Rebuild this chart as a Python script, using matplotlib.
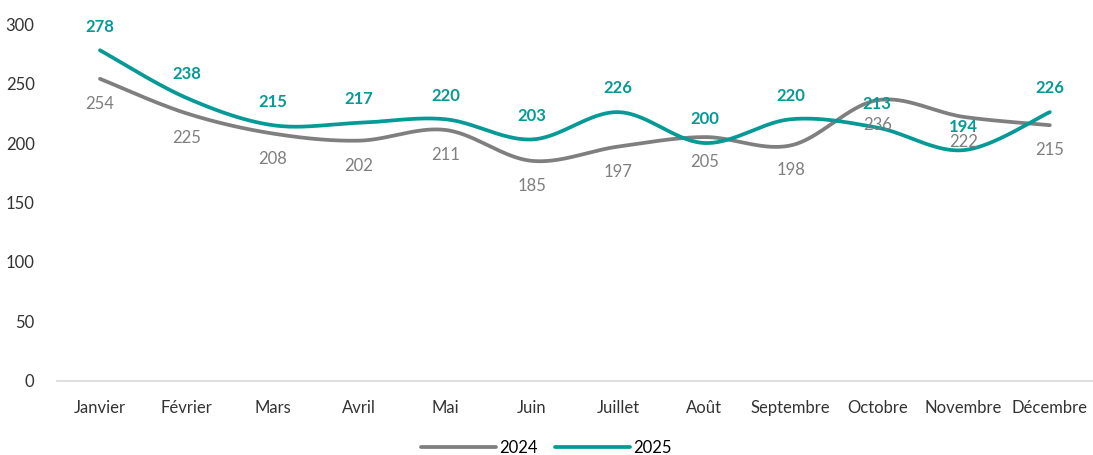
import numpy as np
import matplotlib
matplotlib.use('Agg')
import matplotlib.pyplot as plt

plt.rcParams['font.family'] = ['Lato', 'DejaVu Sans']

mois = ['Janvier', 'Février', 'Mars', 'Avril', 'Mai', 'Juin', 'Juillet',
        'Août', 'Septembre', 'Octobre', 'Novembre', 'Décembre']
v2024 = [254, 225, 208, 202, 211, 185, 197, 205, 198, 236, 222, 215]
v2025 = [278, 238, 215, 217, 220, 203, 226, 200, 220, 213, 194, 226]

grey = '#7f7f7f'
teal = '#069a96'


def smooth(x, y, n=40):
    # courbe lissée façon Excel (Bezier / Catmull-Rom)
    x = np.asarray(x, float)
    y = np.asarray(y, float)
    px = np.concatenate([[x[0]], x, [x[-1]]])
    py = np.concatenate([[y[0]], y, [y[-1]]])
    xs, ys = [], []
    t = np.linspace(0, 1, n)
    for i in range(1, len(px) - 2):
        p0 = np.array([px[i], py[i]])
        p3 = np.array([px[i + 1], py[i + 1]])
        p1 = p0 + (np.array([px[i + 1], py[i + 1]]) - np.array([px[i - 1], py[i - 1]])) / 6
        p2 = p3 - (np.array([px[i + 2], py[i + 2]]) - np.array([px[i], py[i]])) / 6
        b = ((1 - t) ** 3)[:, None] * p0 + (3 * (1 - t) ** 2 * t)[:, None] * p1 \
            + (3 * (1 - t) * t ** 2)[:, None] * p2 + (t ** 3)[:, None] * p3
        xs.append(b[:, 0])
        ys.append(b[:, 1])
    return np.concatenate(xs), np.concatenate(ys)


fig = plt.figure(figsize=(10.93, 4.55), dpi=100)
ax = fig.add_axes([0.052, 0.163, 0.948, 0.784])

x = np.arange(len(mois))
sx, sy = smooth(x, v2024)
ax.plot(sx, sy, color=grey, lw=2.7, solid_capstyle='round', label='2024')
sx, sy = smooth(x, v2025)
ax.plot(sx, sy, color=teal, lw=2.7, solid_capstyle='round', label='2025')

for i, v in enumerate(v2024):
    ax.annotate(str(v), (i, v), xytext=(0, -18), textcoords='offset points',
                ha='center', va='center', color=grey, fontsize=12)
for i, v in enumerate(v2025):
    ax.annotate(str(v), (i, v), xytext=(0, 17), textcoords='offset points',
                ha='center', va='center', color=teal, fontsize=12,
                fontweight='bold')

ax.set_xlim(-0.5, len(mois) - 0.5)
ax.set_ylim(0, 300)
ax.set_yticks(range(0, 301, 50))
ax.set_xticks(x)
ax.set_xticklabels(mois)
ax.tick_params(length=0, labelsize=12, colors='#333333')
ax.tick_params(axis='x', pad=14)
ax.tick_params(axis='y', pad=16)
for s in ['top', 'right', 'left']:
    ax.spines[s].set_visible(False)
ax.spines['bottom'].set_color('#d9d9d9')
ax.spines['bottom'].set_linewidth(1.2)

fig.legend(loc='lower center', bbox_to_anchor=(0.5, -0.035), ncol=2,
           frameon=False, fontsize=12, handlelength=4.5, columnspacing=1.0,
           handletextpad=0.2)

fig.savefig('out.png', dpi=100)
